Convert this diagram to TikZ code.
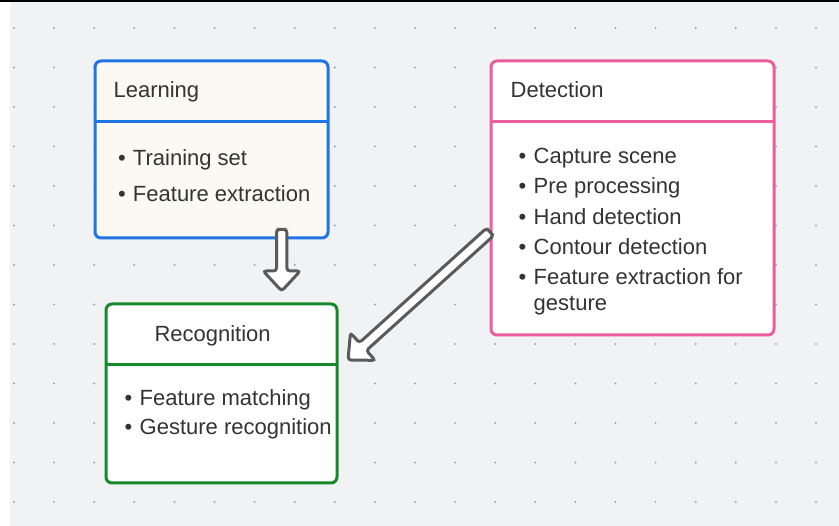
\documentclass[tikz,border=0pt]{standalone}
\usepackage{fontspec}
\setmainfont{Liberation Sans}
\usetikzlibrary{calc}

\definecolor{canvas}{HTML}{F1F2F4}
\definecolor{dotgray}{HTML}{A3A5A8}
\definecolor{ink}{HTML}{333333}
\definecolor{learnblue}{HTML}{1F74E6}
\definecolor{learnfill}{HTML}{FAFAF3}
\definecolor{detpink}{HTML}{EA5E9C}
\definecolor{recgreen}{HTML}{16892A}
\definecolor{arrowgray}{HTML}{5A5A5A}

\begin{document}
\begin{tikzpicture}[x=1pt, y=1pt, font=\fontsize{22}{26}\selectfont, text=ink,
    stage/.style={draw, line width=3pt, rounded corners=6pt, anchor=north west,
                  inner sep=0pt, outer sep=0pt},
    head/.style={anchor=base west, inner sep=0pt},
    entry/.style={anchor=base west, inner sep=0pt},
    hollow/.style={draw=arrowgray, fill=white, line width=3pt, rounded corners=3pt,
      to path={
        -- ($(\tikztostart)!5.2pt!90:(\tikztotarget)$)
        -- ($(\tikztotarget)!20pt!(\tikztostart)!5.2pt!-90:(\tikztostart)$)
        -- ($(\tikztotarget)!20pt!(\tikztostart)!18.5pt!-90:(\tikztostart)$)
        -- (\tikztotarget)
        -- ($(\tikztotarget)!20pt!(\tikztostart)!18.5pt!90:(\tikztostart)$)
        -- ($(\tikztotarget)!20pt!(\tikztostart)!5.2pt!90:(\tikztostart)$)
        -- ($(\tikztostart)!5.2pt!-90:(\tikztotarget)$)
        -- cycle}}]
  \useasboundingbox (0,0) rectangle (839,-526);
  % board with dot grid
  \fill[white] (0,0) rectangle (839,-526);
  \fill[canvas] (10,0) rectangle (839,-526);
  \fill[black] (0,0) rectangle (839,-1.6);
  \foreach \i in {0,...,20}
    \foreach \j in {0,...,12}
      \fill[dotgray] ({14+40.1*\i},{-28-39.5*\j}) circle (1.1);

  % the three stages
  \node[stage, draw=learnblue, fill=learnfill, minimum width=233, minimum height=177] (learn) at (95,-61) {};
  \node[stage, draw=detpink, fill=white, minimum width=283, minimum height=274] (detect) at (491,-61) {};
  \node[stage, draw=recgreen, fill=white, minimum width=231, minimum height=179] (recog) at (106,-304) {};
  \foreach \b/\c in {learn/learnblue, detect/detpink, recog/recgreen}
    \draw[\c, line width=3pt] ([yshift=-61]\b.north west) -- ([yshift=-61]\b.north east);

  \node[head] (learn-title) at (113.4,-98) {Learning};
  \node[head] (detect-title) at (510.5,-97.5) {Detection};
  \node[head] (recog-title) at (154.3,-341.3) {Recognition};

  \foreach \y/\t [count=\i] in {166/Training set, 201.7/Feature extraction}
    \node[entry] (learn-\i) at (117.8,-\y) {\textbullet\hspace{7.3pt}\t};
  \foreach \y/\t [count=\i] in {163.3/Capture scene, 193.7/Pre processing, 224.1/Hand detection,
                                 254.5/Contour detection, 284.9/Feature extraction for}
    \node[entry] (detect-\i) at (518.5,-\y) {\textbullet\hspace{7.3pt}\t};
  \node[entry] (detect-6) at (518.5,-310.5) {\phantom{\textbullet}\hspace{7.3pt}gesture};
  \foreach \y/\t [count=\i] in {405.3/Feature matching, 434.7/Gesture recognition}
    \node[entry] (recog-\i) at (124.5,-\y) {\textbullet\hspace{7.3pt}\t};

  % block arrows
  \coordinate (drop-tail) at ([xshift=70.2, yshift=8.5]learn.south);
  \coordinate (drop-tip) at ([xshift=60.2, yshift=13]recog.north);
  \coordinate (slide-tail) at ([xshift=-1, yshift=-34]detect.west);
  \coordinate (slide-tip) at ([xshift=11, yshift=33.5]recog.east);
  \draw[hollow] (drop-tail) to (drop-tip);
  \draw[hollow] (slide-tail) to (slide-tip);
\end{tikzpicture}
\end{document}
